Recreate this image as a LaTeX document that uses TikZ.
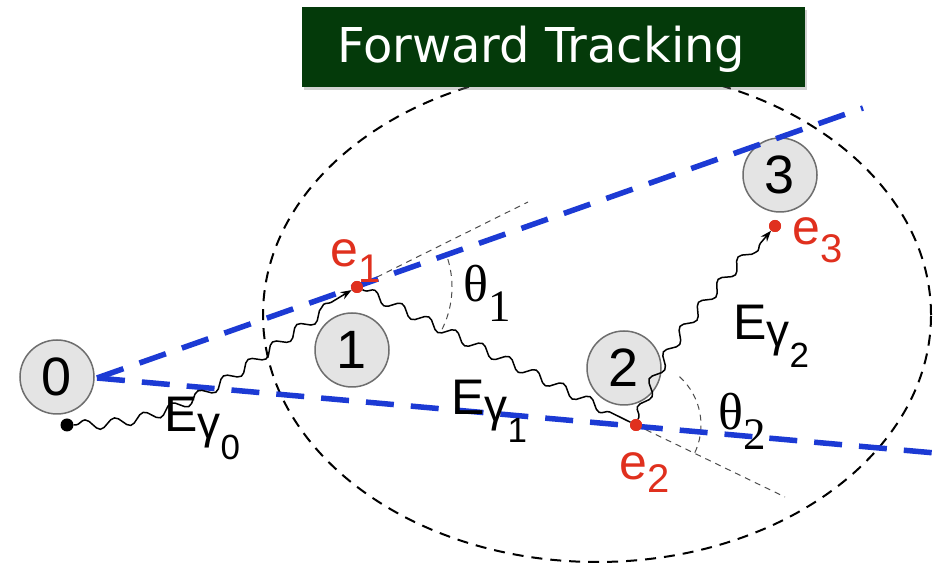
\documentclass[tikz,border=0pt]{standalone}
\usepackage{fontspec}
\setmainfont{Liberation Sans}
\newfontfamily\serifgr{Liberation Serif}
\newfontfamily\titlefont{DejaVu Sans}
\usetikzlibrary{decorations.pathmorphing,arrows.meta,shadows}
\definecolor{boxgreen}{RGB}{4,58,10}
\definecolor{trackblue}{RGB}{28,58,212}
\definecolor{hitred}{RGB}{224,48,30}
\definecolor{ballfill}{RGB}{228,228,228}
\definecolor{ballline}{RGB}{110,110,110}
\newcommand{\fs}[1]{\fontsize{#1}{#1}\selectfont}
\newcommand{\Egam}[1]{{\fs{50}E}{\fs{46}\raisebox{-7pt}{γ}}{\fs{35}\raisebox{-28pt}{#1}}}
\newcommand{\thetalab}[1]{{\serifgr\fs{52}θ}{\serifgr\fs{45}\raisebox{-20pt}{#1}}}
\newcommand{\elab}[2]{{\fs{50}e}{\fs{40}\raisebox{-#2}{#1}}}
\begin{document}
\begin{tikzpicture}[x=1pt,y=1pt,
  ball/.style={circle, draw=ballline, line width=1.5pt, fill=ballfill, minimum size=74pt, inner sep=0pt, font=\fs{54}},
  hit/.style={circle, fill=hitred, minimum size=12pt, inner sep=0pt},
  src/.style={circle, fill=black, minimum size=13pt, inner sep=0pt},
  track/.style={trackblue, line width=5.5pt, dash pattern=on 28pt off 17pt},
  wave/.style={decorate, decoration={snake, amplitude=5pt, segment length=30pt, pre length=2pt, post length=10pt}, line width=1.5pt},
  guide/.style={black!70, line width=1pt, dash pattern=on 6pt off 5pt},
  lab/.style={anchor=base west, inner sep=0pt},
  redlab/.style={lab, text=hitred},
  tipstyle/.style={-{Stealth[length=11pt,width=8pt]}}]
\useasboundingbox (0,0) rectangle (939,564);
\fill[white] (0,0) rectangle (939,564);
% detector envelope
\draw[line width=2pt, dash pattern=on 11pt off 8pt] (597,249) ellipse [x radius=334, y radius=247];
% scatter positions
\node[ball] (b0) at (57,187) {0};
\node[ball] (b1) at (352,214) {1};
\node[ball] (b2) at (624,196) {2};
\node[ball] (b3) at (780,389) {3};
\node[src] (s) at (67,139) {};
\node[hit] (e1) at (357,277) {};
\node[hit] (e2) at (636,139) {};
\node[hit] (e3) at (775,338) {};
\coordinate (tip) at (97,186);
\coordinate (up) at (863,456);
\coordinate (lo) at (935,111);
\coordinate (x1) at (528,362);
\coordinate (x2) at (785,67);
% guides and angle arcs
\draw[guide] (e1.center) -- (x1);
\draw[guide] (e1.center) ++(17:95) arc[start angle=17, end angle=-28, radius=95];
\draw[guide] (e2.center) -- (x2);
\draw[guide] (e2.center) ++(48:65) arc[start angle=48, end angle=-27, radius=65];
% cone lines
\draw[track] (tip) -- (up);
\draw[track] (tip) -- (lo);
% photons
\draw[wave, tipstyle] (s) to[out=0, in=210] (e1);
\draw[wave] (e1) -- (e2);
\draw[wave, tipstyle] (e2) to[out=70, in=230] (e3);
% hits on top
\fill[hitred] (e1.center) circle[radius=6];
\fill[hitred] (e2.center) circle[radius=6];
\fill[hitred] (e3.center) circle[radius=6];
% labels
\node[lab] (l0) at (164,132) {\Egam{0}};
\node[lab] (l1) at (451,149) {\Egam{1}};
\node[lab] (l2) at (733,224) {\Egam{2}};
\node[lab] (t1) at (463,262) {\thetalab{1}};
\node[lab] (t2) at (718,134) {\thetalab{2}};
\node[redlab] (r1) at (330,297) {\elab{1}{16pt}};
\node[redlab] (r2) at (619,84) {\elab{2}{13pt}};
\node[redlab] (r3) at (792,319) {\elab{3}{18pt}};
% title
\node[fill=boxgreen, minimum width=503pt, minimum height=80pt, inner sep=0pt,
  drop shadow={shadow xshift=2pt, shadow yshift=-3pt, opacity=0.35}] (title) at (553.5,517) {};
\node[anchor=base west, inner sep=0pt, text=white, font=\titlefont\fs{48}] (tt) at (337,501) {Forward Tracking};
\end{tikzpicture}
\end{document}
